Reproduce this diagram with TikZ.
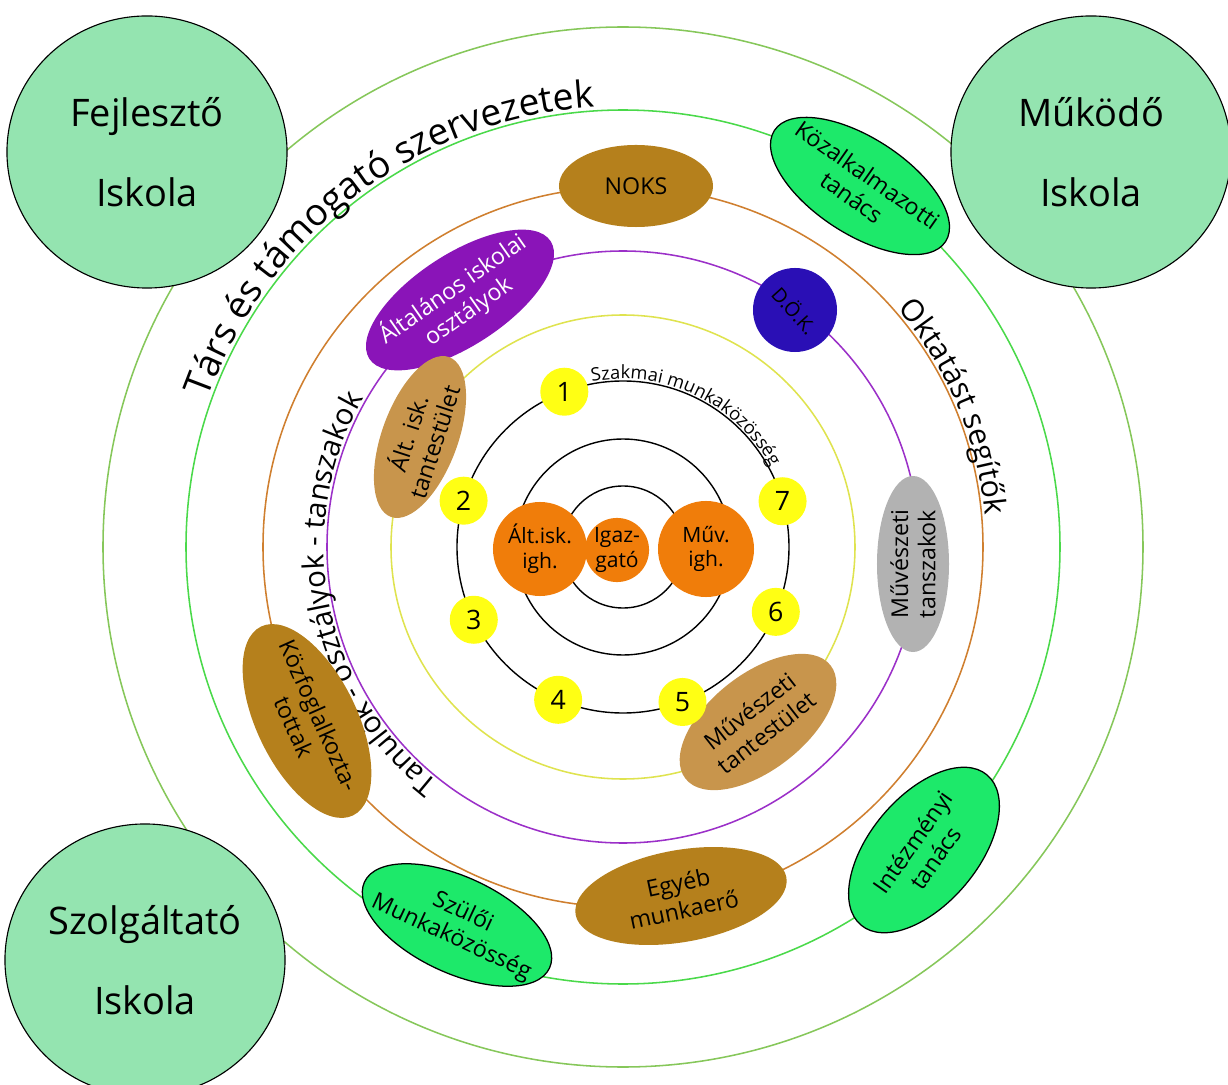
\documentclass[tikz,border=0pt]{standalone}
\usepackage{fontspec}
\setmainfont{Open Sans}
\usepackage{tikz}
\usetikzlibrary{shapes.geometric,decorations.text}
\definecolor{ringolive}{HTML}{86C75A}
\definecolor{ringgreen}{HTML}{4AD94A}
\definecolor{ringorange}{HTML}{CF7F2F}
\definecolor{ringpurple}{HTML}{9B30C8}
\definecolor{ringyellow}{HTML}{DFE34F}
\definecolor{mint}{HTML}{94E4B0}
\definecolor{gold}{HTML}{B5801C}
\definecolor{tanbrown}{HTML}{C8954C}
\definecolor{lilac}{HTML}{8A14B8}
\definecolor{dokblue}{HTML}{2A0FB5}
\definecolor{brightgreen}{HTML}{1DE96A}
\definecolor{leadorange}{HTML}{F07D0A}
\definecolor{numyellow}{HTML}{FFFF14}

\begin{document}
\begin{tikzpicture}[x=0.025cm,y=0.025cm,
  ring/.style={line width=1.1pt},
  school/.style={ellipse,draw=black,fill=mint,line width=0.8pt,inner sep=0pt,
    minimum width=7cm,minimum height=6.8cm,align=center,
    font=\fontsize{27}{57}\selectfont},
  blob/.style={ellipse,inner sep=0pt},
  council/.style={blob,fill=brightgreen,draw=black,line width=0.9pt},
  lbl/.style={align=center,font=\fontsize{16.5}{19.5}\selectfont},
  lead/.style={circle,fill=leadorange,inner sep=0pt,align=center,
    font=\fontsize{15}{17.5}\selectfont},
  num/.style={circle,fill=numyellow,inner sep=0pt,minimum size=1.2cm,
    font=\fontsize{19}{19}\selectfont}]
  \useasboundingbox (-623,-537) rectangle (605,547);
  \coordinate (C) at (0,0);

  % rings
  \draw[ring,ringolive] (C) circle (520);
  \draw[ring,ringgreen] (C) circle (437);
  \draw[ring,ringorange] (C) circle (360);
  \draw[ring,ringpurple] (C) circle (296);
  \draw[ring,ringyellow] (C) circle (232);
  \draw[line width=1pt] (C) circle (166) (C) circle (108) (C) circle (61);

  % texts along the rings
  \path[decorate,decoration={text along path,text align=center,
    text={|\fontsize{26.5}{26.5}\selectfont|Társ és támogató szervezetek}}]
    (171:441) arc[start angle=171,end angle=83,radius=441];
  \path[decorate,decoration={text along path,text align=center,
    text={|\fontsize{21.5}{21.5}\selectfont|Oktatást segítők}}]
    (60:363) arc[start angle=60,end angle=-14,radius=363];
  \path[decorate,decoration={text along path,text align=center,
    text={|\fontsize{21}{21}\selectfont|Tanulók - osztályok - tanszakok}}]
    (243:299) arc[start angle=243,end angle=139,radius=299];
  \path[decorate,decoration={text along path,text align=center,
    text={|\fontsize{13}{13}\selectfont|Szakmai munkaközösség}}]
    (110:168) arc[start angle=110,end angle=19,radius=168];

  % the three schools
  \node[school] (fejleszto) at (-476,395) {Fejlesztő\\Iskola};
  \node[school] (mukodo) at (468,395) {Működő\\Iskola};
  \node[school] (szolgaltato) at (-478,-413) {Szolgáltató\\Iskola};

  % outer ring
  \node[council,minimum width=5.1cm,minimum height=2.4cm,rotate=-33] (kozalk) at (237,361) {};
  \node[lbl,rotate=-35] (kozalk-t) at (kozalk) {Közalkalmazotti\\tanács};
  \node[council,minimum width=4.9cm,minimum height=2.7cm,rotate=50] (intez) at (301,-303) {};
  \node[lbl,rotate=55] (intez-t) at (intez) {Intézményi\\tanács};
  \node[council,minimum width=5.1cm,minimum height=2.4cm,rotate=-25] (szuloi) at (-166,-378) {};
  \node[lbl,rotate=-25] (szuloi-t) at (szuloi) {Szülői\\Munkaközösség};

  % orange ring
  \node[blob,fill=gold,minimum width=3.85cm,minimum height=2.05cm] (noks) at (13,361) {};
  \node[lbl] (noks-t) at (noks) {NOKS};
  \node[blob,fill=gold,minimum width=5.25cm,minimum height=2.5cm,rotate=-64] (kozfogl) at (-316,-174) {};
  \node[lbl,rotate=-66] (kozfogl-t) at (kozfogl) {Közfoglalkozta-\\tottak};
  \node[blob,fill=gold,minimum width=5.35cm,minimum height=2.3cm,rotate=10] (egyeb) at (58,-349) {};
  \node[lbl,rotate=12] (egyeb-t) at (egyeb) {Egyéb\\munkaerő};

  % purple ring
  \node[blob,fill=lilac,minimum width=5.4cm,minimum height=2.3cm,rotate=33] (altoszt) at (-163,247) {};
  \node[lbl,text=white,rotate=35] (altoszt-t) at (altoszt) {Általános iskolai\\osztályok};
  \node[blob,fill=dokblue,minimum size=2.1cm] (dok) at (172,237) {};
  \node[lbl,font=\fontsize{14}{16}\selectfont,rotate=-48] (dok-t) at (dok) {D.Ö.K.};
  \node[blob,fill=black!30,minimum width=4.4cm,minimum height=1.8cm,rotate=90] (muvtansz) at (290,-17) {};
  \node[lbl,rotate=90] (muvtansz-t) at (muvtansz) {Művészeti\\tanszakok};

  % yellow ring
  \node[blob,fill=tanbrown,minimum width=4.25cm,minimum height=1.9cm,rotate=70] (alttest) at (-203,110) {};
  \node[lbl,rotate=72] (alttest-t) at (alttest) {Ált. isk.\\tantestület};
  \node[blob,fill=tanbrown,minimum width=4.6cm,minimum height=2.4cm,rotate=38] (muvtest) at (135,-175) {};
  \node[lbl,rotate=38] (muvtest-t) at (muvtest) {Művészeti\\tantestület};

  % work groups
  \node[num] (n1) at (110.7:166) {1};
  \node[num] (n2) at (163.8:166) {2};
  \node[num] (n3) at (206:166) {3};
  \node[num] (n4) at (247:166) {4};
  \node[num] (n5) at (291:166) {5};
  \node[num] (n6) at (337:166) {6};
  \node[num] (n7) at (16:166) {7};

  % leaders
  \node[lead,minimum size=1.4cm] (igazgato) at (-6,-3) {Igaz-\\gató};
  \node[lead,minimum size=2.35cm] (altigh) at (-83,-2) {Ált.isk.\\igh.};
  \node[lead,minimum size=2.4cm] (muvigh) at (83,-2) {Műv.\\igh.};
\end{tikzpicture}
\end{document}
